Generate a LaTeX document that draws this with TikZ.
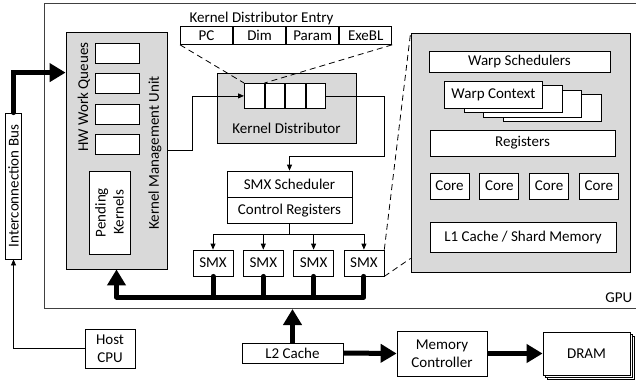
\documentclass[tikz,border=0pt]{standalone}
\usepackage{fontspec}
\setmainfont{Carlito}
\usetikzlibrary{positioning,arrows.meta,calc}
\definecolor{grisf}{HTML}{D9D9D9}
\definecolor{borde}{HTML}{404040}

\begin{document}
\begin{tikzpicture}[x=1pt,y=-1pt,font=\fontsize{15}{18}\selectfont,line width=0.8pt,
        b/.style={draw,fill=white,inner sep=0pt,align=center},
        g/.style={draw,fill=grisf,inner sep=0pt},
        q/.style={b,minimum width=44pt,minimum height=20pt},
        e/.style={b,minimum width=52.25pt,minimum height=18pt},
        c/.style={b,minimum width=19.75pt,minimum height=25pt},
        s/.style={b,minimum width=125pt,minimum height=26pt},
        m/.style={b,minimum width=40pt,minimum height=26pt},
        w/.style={b,minimum width=98pt,minimum height=27pt,anchor=north west},
        k/.style={b,minimum width=39pt,minimum height=26pt},
        f/.style={-{Triangle[length=6pt,width=5pt]}},
        gf/.style={-{Triangle[length=16pt,width=18pt]},line width=5pt},
        gb/.style={line width=5pt,line cap=round,line join=round},
        d/.style={dash pattern=on 6pt off 4pt}]
        \useasboundingbox (0,0) rectangle (636,381);
        \draw[borde] (44,3) rectangle (640,308);
        \node[anchor=east] (gpu) at (636,298) {GPU};
        % kernel management unit
        \node[g,minimum width=101pt,minimum height=237pt] (kmu) at (116.5,150.5) {};
        \node[q] (q1) at (117,53) {};
        \node[q,below=9.7pt of q1] (q2) {};
        \node[q,below=9.7pt of q2] (q3) {};
        \node[q,below=9.7pt of q3] (q4) {};
        \node[rotate=90] (hwq) at (84,97) {HW Work Queues};
        \node[b,rotate=90,minimum width=83pt,minimum height=41pt] (pend) at (109.5,212.5) {Pending\\Kernels};
        \node[rotate=90] (kmut) at (155,153) {Kernel Management Unit};
        \node[b,rotate=90,minimum width=146pt,minimum height=16pt] (icb) at (13.5,186) {Interconnection Bus};
        % kernel distributor
        \node (entl) at (261.5,18) {Kernel Distributor Entry};
        \node[e,anchor=north west] (e1) at (180,26) {PC};
        \node[e,right=0pt of e1] (e2) {Dim};
        \node[e,right=0pt of e2] (e3) {Param};
        \node[e,right=0pt of e3] (e4) {ExeBL};
        \node[g,minimum width=139pt,minimum height=70pt] (kd) at (286.5,108) {};
        \node (kdt) at (286.5,128) {Kernel Distributor};
        \node[c,anchor=north west] (c1) at (244,83) {};
        \node[c,right=0pt of c1] (c2) {};
        \node[c,right=0pt of c2] (c3) {};
        \node[c,right=0pt of c3] (c4) {};
        \node[s] (sch) at (289.5,184) {SMX Scheduler};
        \node[s,below=0pt of sch] (creg) {Control Registers};
        \node[m] (smx1) at (213,263) {SMX};
        \node[m,right=9.5pt of smx1] (smx2) {SMX};
        \node[m,right=9.5pt of smx2] (smx3) {SMX};
        \node[m,right=9.5pt of smx3] (smx4) {SMX};
        % smx detail
        \node[g,minimum width=219pt,minimum height=239pt] (sm) at (520.5,152.5) {};
        \node[b,minimum width=181pt,minimum height=21pt] (ws) at (519.5,61.5) {Warp Schedulers};
        \node[w] (wc4) at (503,94) {};
        \node[w] (wc3) at (483.3,89.7) {};
        \node[w] (wc2) at (463.7,85.3) {};
        \node[w] (wc1) at (444,81) {Warp Context};
        \node[b,minimum width=185pt,minimum height=26pt] (reg) at (522.5,143) {Registers};
        \node[k] (core1) at (449.5,186) {Core};
        \node[k,right=10pt of core1] (core2) {Core};
        \node[k,right=10pt of core2] (core3) {Core};
        \node[k,right=10pt of core3] (core4) {Core};
        \node[b,minimum width=186pt,minimum height=30pt] (l1) at (523,237) {L1 Cache / Shard Memory};
        % outside the gpu
        \node[b,minimum width=50pt,minimum height=39pt] (host) at (110,348.5) {Host\\CPU};
        \node[b,minimum width=101pt,minimum height=20pt] (l2) at (292.5,353) {L2 Cache};
        \node[b,minimum width=90pt,minimum height=45pt] (mc) at (442,353.5) {Memory\\Controller};
        \node[b,minimum width=87pt,minimum height=43pt] (dram3) at (590.5,357.5) {};
        \node[b,minimum width=87pt,minimum height=43pt] (dram2) at (588.5,355.5) {};
        \node[b,minimum width=87pt,minimum height=43pt] (dram) at (586.5,353.5) {DRAM};
        % connectors
        \draw[f] (kmu.east) -- ++(25,0) |- (c1.west);
        \draw[f] (c4.east) -| ++(58,60) -| (sch.north);
        \draw (creg.south) -- ++(0,10) coordinate (br);
        \draw (smx1.north |- br) -- (smx4.north |- br);
        \draw[f] (smx1.north |- br) -- (smx1.north);
        \draw[f] (smx2.north |- br) -- (smx2.north);
        \draw[f] (smx3.north |- br) -- (smx3.north);
        \draw[f] (smx4.north |- br) -- (smx4.north);
        \draw[d] (e1.south west) -- (c1.north west);
        \draw[d] (e4.south east) -- (c1.north east);
        \draw[d] (smx4.north east) -- (sm.north west);
        \draw[d] (smx4.south east) -- ($(sm.south west)+(0,-14)$);
        \coordinate (bus) at (kmu.south |- 0,297);
        \draw[gb] (smx4.south) |- (bus);
        \draw[gb] (smx1.south) -- (smx1.south |- bus);
        \draw[gb] (smx2.south) -- (smx2.south |- bus);
        \draw[gb] (smx3.south) -- (smx3.south |- bus);
        \draw[gf] (bus) -- (kmu.south);
        \draw[gf,line cap=round] (icb.east) |- ($(kmu.north west)+(0,41)$);
        \draw[f] (host.west) -| (icb.west);
        \coordinate (gpub) at (l2.north |- 0,309);
        \draw[gf] (l2.north) -- (gpub);
        \draw[gf] (l2.east) -- (mc.west);
        \draw[gf] (mc.east) -- (dram.west);
      \end{tikzpicture}
\end{document}
